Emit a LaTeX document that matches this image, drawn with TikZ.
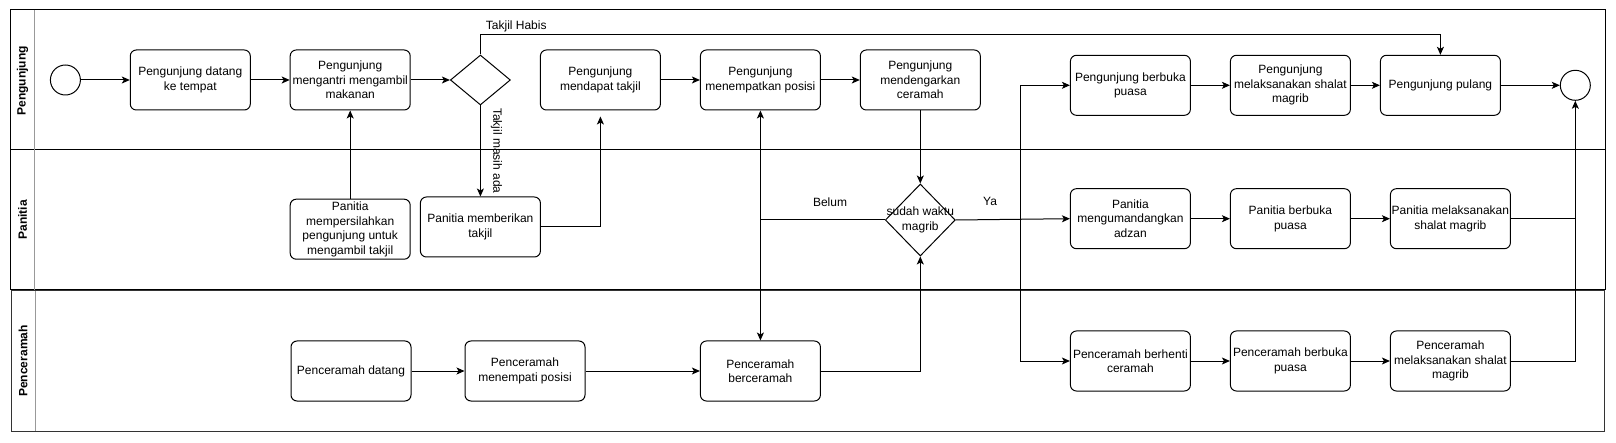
\documentclass[tikz,border=0pt]{standalone}
\usepackage{fontspec}
\setmainfont{Liberation Sans}
\usetikzlibrary{shapes.geometric,arrows.meta}
\begin{document}
\begin{tikzpicture}[x=1pt,y=-1pt,line width=1pt,
  >={Stealth[length=8pt,width=7pt,inset=2pt]},
  txt/.style={font=\fontsize{12}{14.5}\selectfont,align=center},
  task/.style={txt,draw,rounded corners=6pt,minimum width=120pt,minimum height=60pt,inner sep=1pt},
  gate/.style={draw,diamond,inner sep=0pt},
  event/.style={draw,circle,minimum size=30pt,inner sep=0pt},
  lbl/.style={txt,inner sep=2pt},
  lane/.style={rotate=90,font=\bfseries\fontsize{12}{14.5}\selectfont}]
  \useasboundingbox (0,0) rectangle (1616,443);
  \draw (10,10) rectangle (1605,290);
  \draw (10,150) -- (1605,150);
  \draw[black!40,line width=0.8pt] (34.8,10) -- (34.8,290);
  \draw[black!80] (11.4,291) rectangle (1604,431);
  \draw[black!40,line width=0.8pt] (35,291) -- (35,431);
  \node[lane] at (22.5,81) {Pengunjung};
  \node[lane] at (22.5,220) {Panitia};
  \node[lane] at (23.2,361) {Penceramah};

  \node[event] (mulai) at (65.4,80) {};
  \node[task] (datang) at (190.3,80) {Pengunjung datang\\ke tempat};
  \node[task] (antri) at (350.2,80) {Pengunjung\\mengantri mengambil\\makanan};
  \node[gate,minimum width=60pt,minimum height=50pt] (cek) at (480.4,80) {};
  \node[task] (dapat) at (600.4,80) {Pengunjung\\mendapat takjil};
  \node[task] (posisi) at (760.4,80) {Pengunjung\\menempatkan posisi};
  \node[task] (dengar) at (920.3,80) {Pengunjung\\mendengarkan\\ceramah};
  \node[task] (bukaP) at (1130.4,85.3) {Pengunjung berbuka\\puasa};
  \node[task] (shalatP) at (1290.4,85.3) {Pengunjung\\melaksanakan shalat\\magrib};
  \node[task] (pulang) at (1440.4,85.3) {Pengunjung pulang};
  \node[event] (selesai) at (1575.3,85.3) {};

  \node[task] (persilahkan) at (350.2,229.2) {Panitia\\mempersilahkan\\pengunjung untuk\\mengambil takjil};
  \node[task] (beri) at (480.4,227) {Panitia memberikan\\takjil};
  \node[gate,minimum width=70pt,minimum height=72pt] (magrib) at (920.3,220) {};
  \node[txt] at (magrib) {sudah waktu\\magrib};
  \node[task] (adzan) at (1130.4,218.7) {Panitia\\mengumandangkan\\adzan};
  \node[task] (bukaPan) at (1290.4,218.7) {Panitia berbuka\\puasa};
  \node[task] (shalatPan) at (1450.4,218.7) {Panitia melaksanakan\\shalat magrib};

  \node[task] (datangC) at (351,371) {Penceramah datang};
  \node[task] (tempatC) at (525,371) {Penceramah\\menempati posisi};
  \node[task] (ceramah) at (760.4,371) {Penceramah\\berceramah};
  \node[task] (henti) at (1130.4,361) {Penceramah berhenti\\ceramah};
  \node[task] (bukaC) at (1290.4,361) {Penceramah berbuka\\puasa};
  \node[task] (shalatC) at (1450.4,361) {Penceramah\\melaksanakan shalat\\magrib};

  \foreach \a/\b in {mulai/datang,datang/antri,antri/cek,dapat/posisi,posisi/dengar,
      bukaP/shalatP,shalatP/pulang,pulang/selesai,adzan/bukaPan,bukaPan/shalatPan,
      datangC/tempatC,tempatC/ceramah,henti/bukaC,bukaC/shalatC,persilahkan/antri,dengar/magrib}
    \draw[->] (\a) -- (\b);
  \draw[->] (cek.north) -- ++(0,-19.7) node[lbl,above right,xshift=3pt]{Takjil Habis} -| (pulang.north);
  \draw[->] (cek.south) -- node[txt,midway,rotate=-90,anchor=south,inner xsep=0pt,inner ysep=10pt]{Takjil masih ada} (beri.north);
  \draw[->,shorten >=6pt] (beri.east) -| (dapat.south);
  \draw (magrib.west) -- node[lbl,above=11pt,pos=0.44]{Belum} (posisi.south |- magrib.west) coordinate (belum);
  \draw[->] (belum) -- (posisi.south);
  \draw[->] (belum) -- (ceramah.north);
  \draw[->] (ceramah.east) -| (magrib.south);
  \draw[->] (magrib.east) -- node[lbl,above=11pt,pos=0.3]{Ya} (adzan.west);
  \coordinate (split) at (1020,220);
  \draw[->] (split) |- (bukaP.west);
  \draw[->] (split) |- (henti.west);
  \draw (shalatPan.east) -- (shalatPan.east -| selesai.south);
  \draw[->] (shalatC.east) -| (selesai.south);
\end{tikzpicture}
\end{document}
